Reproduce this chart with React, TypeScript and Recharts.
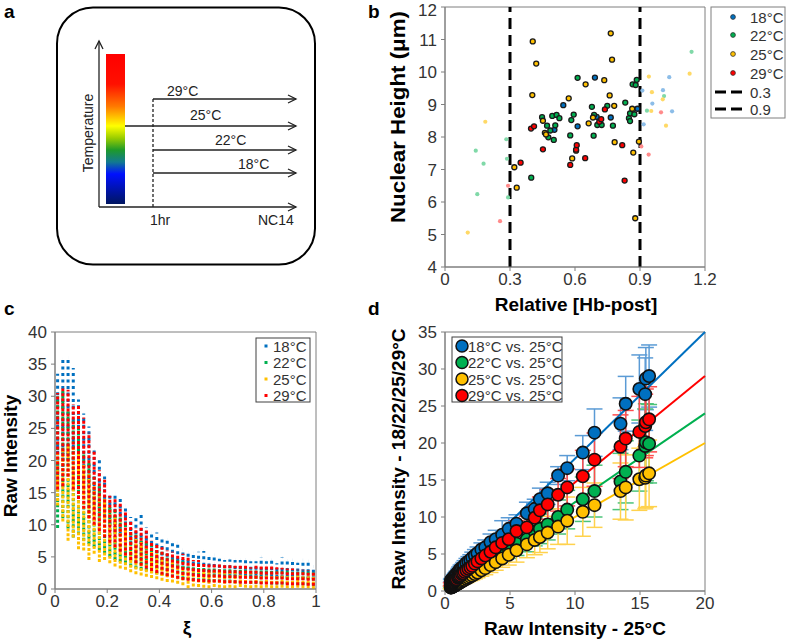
import React from "react";
import {
  ScatterChart,
  ComposedChart,
  Scatter,
  Line,
  XAxis,
  YAxis,
  ErrorBar,
  ReferenceLine,
  ReferenceArea,
} from "recharts";

const FONT = "'Liberation Sans', Arial, sans-serif";
const AXIS = "#7f7f7f";
const TICK = { fontSize: 17, fill: "#333", fontFamily: FONT };

// temperatures + colours shared by panels b-d
const temps = ["18°C", "22°C", "25°C", "29°C"];
const colors = ["#0070c0", "#00b050", "#ffc000", "#ff0000"];
const paleColors = ["#8cbde8", "#80d9a8", "#ffd966", "#ff8a8a"];
const barColors = ["#5b9bd5", "#4cc47a", "#ffd24d", "#ff4d4d"];

// ---- panel b: relative [Hb-post] vs nuclear height (x, y)
const hbCuts = [0.3, 0.9];
const hb18 = [
  [0.505, 8.22], [0.546, 8.98], [0.612, 8.33], [0.692, 9.83], [0.7, 8.62], [0.765, 8.6],
  [0.888, 8.87], [0.911, 9.43], [0.917, 8.39], [0.957, 9.03], [1.006, 9.44], [1.035, 9.84],
  [1.048, 8.79],
];
const hb22 = [
  [0.142, 7.58], [0.149, 6.24], [0.178, 7.18], [0.283, 7.93], [0.286, 7.33], [0.291, 6.14],
  [0.398, 6.75], [0.448, 8.61], [0.471, 8.35], [0.477, 7.99], [0.486, 8.2], [0.495, 8.65],
  [0.502, 7.91], [0.509, 8.36], [0.515, 8.68], [0.528, 8.58], [0.578, 8.05], [0.583, 8.52],
  [0.594, 8.69], [0.612, 9.82], [0.678, 8.93], [0.686, 8.04], [0.688, 8.68], [0.703, 8.37],
  [0.723, 8.37], [0.749, 8.96], [0.775, 8.35], [0.832, 9.06], [0.849, 8.58], [0.854, 8.73],
  [0.854, 8.49], [0.866, 9.62], [0.874, 8.7], [0.88, 9.6], [0.885, 9.76], [0.932, 8.81],
  [1.011, 9.26], [1.138, 10.62],
];
const hb25 = [
  [0.105, 5.06], [0.186, 8.47], [0.32, 7.07], [0.331, 6.44], [0.403, 9.29], [0.405, 10.94],
  [0.421, 10.26], [0.452, 8.5], [0.461, 8.13], [0.466, 8.08], [0.571, 9.19], [0.587, 7.34],
  [0.605, 7.58], [0.649, 9.62], [0.663, 8.42], [0.683, 8.6], [0.735, 9.75], [0.76, 9.28],
  [0.765, 11.19], [0.771, 10.38], [0.781, 8.96], [0.783, 7.84], [0.864, 8.87], [0.869, 7.52],
  [0.878, 5.5], [0.895, 7.86], [0.941, 9.86], [0.952, 8.8], [0.955, 9.38], [1.005, 9.16],
  [1.02, 8.35], [1.129, 9.95],
];
const hb29 = [
  [0.254, 5.41], [0.291, 6.5], [0.349, 7.21], [0.397, 8.26], [0.411, 8.33], [0.452, 7.62],
  [0.578, 7.14], [0.605, 7.61], [0.608, 7.75], [0.647, 7.35], [0.712, 8.47], [0.721, 8.55],
  [0.738, 8.85], [0.818, 7.75], [0.829, 6.66], [0.906, 7.71], [0.94, 7.46], [0.997, 8.76],
];
const hbSeries = [hb18, hb22, hb25, hb29];

// ---- panel c: raw intensity along xi, per bin: lowest and highest value seen
const xiBins = [
  0.01, 0.03, 0.05, 0.07, 0.09, 0.11, 0.13, 0.15, 0.17, 0.19, 0.21, 0.23, 0.25, 0.27, 0.29, 0.31, 0.33,
  0.35, 0.37, 0.39, 0.41, 0.43, 0.45, 0.47, 0.49, 0.51, 0.53, 0.55, 0.57, 0.59, 0.61, 0.63, 0.65,
  0.67, 0.69, 0.71, 0.73, 0.75, 0.77, 0.79, 0.81, 0.83, 0.85, 0.87, 0.89, 0.91, 0.93, 0.95, 0.97,
  0.99,
];
const c18Hi = [
  33.5, 35.8, 36.0, 34.4, 29.5, 27.3, 25.3, 21.6, 20.4, 17.5, 14.9, 14.9, 14.0, 13.0, 11.2, 11.5, 11.8,
  9.6, 8.7, 8.8, 7.7, 7.7, 7.2, 7.2, 6.1, 5.7, 5.6, 5.8, 5.9, 5.0, 5.3, 4.7, 4.5, 4.6, 4.5, 4.5, 4.6,
  4.3, 4.3, 5.0, 4.3, 4.5, 4.0, 4.9, 4.4, 4.5, 4.1, 4.5, 4.3, 3.5,
];
const c18Lo = [
  18, 19, 20, 20, 18, 17, 15, 14, 12.5, 11, 10, 9, 8.5, 8, 7, 6.5, 6, 5.5, 5, 4.6, 4.2, 4, 3.6, 3.4,
  3.2, 3, 2.8, 2.7, 2.6, 2.5, 2.4, 2.3, 2.2, 2.2, 2.1, 2.1, 2.0, 2.0, 2.0, 1.9, 1.9, 1.9, 1.8, 1.8,
  1.8, 1.7, 1.7, 1.6, 1.6, 1.5,
];
const c22Hi = [
  30.0, 30.8, 28.0, 26.2, 25.0, 21.3, 20.0, 17.5, 16.0, 14.5, 13.0, 12.5, 11.5, 10.5, 9.5, 8.5, 8.0,
  7.5, 7.0, 6.5, 6.2, 5.5, 5.0, 4.6, 4.3, 3.9, 3.8, 3.7, 3.6, 3.5, 3.4, 3.4, 3.3, 3.3, 3.2, 3.2, 3.1,
  3.1, 3.0, 3.0, 3.0, 2.9, 2.9, 2.9, 2.8, 2.8, 2.8, 2.7, 2.7, 2.6,
];
const c22Lo = [
  9.5, 11, 9.4, 8.0, 8.5, 7.5, 7.0, 6.5, 6.0, 5.5, 5.0, 4.5, 4.2, 4.0, 3.5, 3.2, 3.0, 2.8, 2.5, 2.3,
  2.1, 2.0, 1.8, 1.6, 1.5, 1.4, 1.3, 1.2, 1.2, 1.1, 1.1, 1.0, 1.0, 1.0, 0.9, 0.9, 0.9, 0.8, 0.8, 0.8,
  0.8, 0.7, 0.7, 0.7, 0.7, 0.6, 0.6, 0.6, 0.6, 0.5,
];
const c25Hi = [
  21, 22, 22.5, 22, 21, 19.5, 18, 16.5, 15, 14, 12.5, 11.5, 10.5, 9.5, 8.5, 8.0, 7.3, 6.8, 6.0, 5.5,
  5.0, 4.5, 4.2, 3.8, 3.5, 3.2, 3.1, 3.0, 2.9, 2.8, 2.8, 2.7, 2.7, 2.6, 2.6, 2.5, 2.5, 2.5, 2.4, 2.4,
  2.4, 2.3, 2.3, 2.3, 2.2, 2.2, 2.2, 2.1, 2.1, 2.0,
];
const c25Lo = [
  13, 10.5, 7.5, 8.0, 6.2, 6.0, 4.5, 5.5, 4.2, 4.5, 4.0, 3.5, 3.2, 3.0, 2.6, 2.3, 2.1, 1.9, 1.7, 1.5,
  1.3, 1.1, 1.0, 0.8, 0.6, 0.1, 0.4, 0.3, 0.2, 0.1, 0.3, 0.2, 0.1, 0.2, 0.1, 0.3, 0.2, 0.1, 0.2, 0.1,
  0.2, 0.1, 0.1, 0.2, 0.1, 0.1, 0.2, 0.1, 0.1, 0.0,
];
const c29Hi = [
  30.5, 31.2, 31.0, 28.8, 28.7, 26.7, 24.3, 21.5, 18.5, 17.0, 14.5, 14.0, 13.5, 12.0, 10.5, 9.5, 9.8,
  9.4, 7.5, 7.0, 6.5, 6.0, 5.8, 5.5, 5.5, 5.0, 4.5, 4.5, 4.2, 4.0, 4.0, 3.8, 3.8, 3.8, 3.6, 3.6, 3.6,
  3.4, 3.6, 3.8, 3.6, 3.5, 3.4, 3.3, 3.2, 3.2, 3.0, 3.0, 2.9, 2.8,
];
const c29Lo = [
  15.5, 16, 17.5, 15.5, 14, 12.5, 11, 10, 9, 8, 7.2, 6.5, 5.8, 5.2, 4.5, 4.0, 3.6, 3.2, 2.8, 2.5, 2.2,
  2.0, 1.8, 1.6, 1.4, 1.3, 1.2, 1.1, 1.1, 1.0, 1.0, 1.0, 0.9, 0.9, 0.9, 0.8, 0.8, 0.8, 0.8, 0.7, 0.7,
  0.7, 0.7, 0.7, 0.6, 0.6, 0.6, 0.6, 0.5, 0.5,
];
const cLo = [c18Lo, c22Lo, c25Lo, c29Lo];
const cHi = [c18Hi, c22Hi, c25Hi, c29Hi];
// dot spacing inside each column, so lower layers show through
const cDash = ["3 3.5", "3 2.2", "3 1.6", "3 2"];

// ---- panel d: raw intensity at 25°C (x) vs each temperature, mean and SD
const dX = [
  0.45, 0.5, 0.55, 0.6, 0.65, 0.7, 0.75, 0.8, 0.85, 0.9, 1.0, 1.05, 1.1, 1.2, 1.3, 1.4, 1.5, 1.65, 1.8,
  1.95, 2.1, 2.3, 2.5, 2.8, 3.1, 3.5, 3.9, 4.4, 4.9, 5.5, 6.3, 6.9, 7.3, 7.9, 8.7, 9.4, 10.6, 11.5, 13.5,
  13.9, 14.95, 15.4, 15.45, 15.7,
];
const d18 = [
  1.4, 1.5, 1.6, 1.7, 1.8, 1.9, 2.0, 2.1, 2.2, 2.3, 2.5, 2.6, 2.8, 3.0, 3.1, 3.3, 3.5, 3.8, 4.0, 4.2,
  4.5, 4.8, 5.1, 5.6, 5.9, 6.6, 7.0, 7.6, 8.4, 9.1, 10.5, 11.1, 12.4, 13.2, 15.6, 16.6, 18.7, 21.4,
  22.6, 25.3, 27.3, 26.6, 28.7, 29.05,
];
const d22 = [
  0.5, 0.6, 0.65, 0.7, 0.75, 0.8, 0.9, 0.95, 1.0, 1.05, 1.2, 1.25, 1.3, 1.4, 1.55, 1.65, 1.8, 1.95,
  2.1, 2.3, 2.5, 2.7, 3.0, 3.3, 3.7, 4.1, 4.6, 5.2, 5.8, 6.4, 7.0, 8.0, 8.4, 9.0, 10.0, 11.0, 12.4,
  13.5, 14.8, 16.1, 18.3, 19.6, 20.1, 19.9,
];
const d25 = [
  0.45, 0.5, 0.55, 0.6, 0.65, 0.7, 0.75, 0.8, 0.85, 0.9, 1.0, 1.05, 1.1, 1.2, 1.3, 1.4, 1.5, 1.65, 1.8,
  1.95, 2.1, 2.3, 2.5, 2.8, 3.1, 3.5, 3.9, 4.4, 4.9, 5.5, 6.3, 6.9, 7.3, 7.9, 8.7, 9.5, 10.7, 11.6, 13.5,
  14.0, 15.1, 15.3, 15.6, 15.9,
];
const d29 = [
  0.9, 1.0, 1.05, 1.15, 1.2, 1.3, 1.4, 1.45, 1.5, 1.6, 1.8, 1.9, 2.0, 2.1, 2.3, 2.4, 2.6, 2.8, 3.0, 3.2,
  3.4, 3.7, 4.0, 4.4, 4.8, 5.3, 5.9, 6.5, 7.0, 8.1, 8.6, 9.9, 10.9, 11.7, 13.0, 14.0, 15.5, 17.75, 19.5,
  20.6, 21.5, 22.3, 22.8, 23.2,
];
const e18 = [
  0.2, 0.2, 0.25, 0.25, 0.3, 0.3, 0.3, 0.35, 0.35, 0.4, 0.4, 0.45, 0.45, 0.5, 0.5, 0.55, 0.6, 0.6, 0.65,
  0.7, 0.75, 0.8, 0.85, 0.9, 1.0, 1.1, 1.2, 1.9, 1.5, 1.2, 1.5, 1.3, 1.5, 1.5, 1.2, 1.7, 2.3, 3.2, 3.5,
  3.7, 4.6, 4.9, 4.2, 4.2,
];
const e22 = [
  0.15, 0.15, 0.2, 0.2, 0.2, 0.2, 0.25, 0.25, 0.25, 0.3, 0.3, 0.3, 0.35, 0.35, 0.4, 0.4, 0.45, 0.5,
  0.55, 0.6, 0.65, 0.7, 0.75, 0.8, 0.9, 1.0, 1.1, 1.3, 1.4, 1.6, 1.7, 1.9, 2.0, 2.1, 2.3, 2.6, 3.0, 3.5,
  3.8, 4.2, 4.8, 5.0, 5.2, 5.3,
];
const e25 = [
  0.15, 0.15, 0.15, 0.2, 0.2, 0.2, 0.2, 0.25, 0.25, 0.25, 0.3, 0.3, 0.3, 0.35, 0.35, 0.4, 0.45, 0.5,
  0.5, 0.55, 0.6, 0.65, 0.7, 0.8, 0.9, 1.0, 1.1, 1.2, 1.4, 1.6, 1.8, 2.0, 2.1, 2.2, 2.4, 3.2, 3.3, 3.0,
  3.8, 4.4, 4.2, 4.2, 4.3, 4.5,
];
const e29 = [
  0.2, 0.2, 0.2, 0.25, 0.25, 0.3, 0.3, 0.3, 0.35, 0.35, 0.4, 0.4, 0.45, 0.45, 0.5, 0.5, 0.55, 0.6, 0.65,
  0.7, 0.7, 0.75, 0.8, 0.9, 1.0, 1.0, 1.1, 1.2, 1.3, 1.4, 1.5, 1.6, 1.8, 2.0, 2.2, 2.5, 3.5, 3.6, 4.3,
  3.8, 4.8, 4.3, 4.5, 4.4,
];
const dY = [d18, d22, d25, d29];
const dErr = [e18, e22, e25, e29];
// linear fits, value at x = 0 and x = 20
const fitX = [0, 20];
const fitStart = [0.77, 0, 0, 0.3];
const fitEnd = [35, 24, 20, 29.05];

const axisProps = {
  axisLine: { stroke: AXIS },
  tickLine: { stroke: AXIS },
  tick: TICK,
  tickSize: 4,
};

const PanelB = () => (
  <ScatterChart width={397} height={320} margin={{ top: 7, right: 82, bottom: 0, left: 0 }}>
    <XAxis type="number" dataKey="x" domain={[0, 1.2]} ticks={[0, 0.3, 0.6, 0.9, 1.2]} height={53} tickMargin={2} {...axisProps} />
    <YAxis type="number" dataKey="y" domain={[4, 12]} ticks={[4, 5, 6, 7, 8, 9, 10, 11, 12]} width={55} tickMargin={4} {...axisProps} />
    <ReferenceArea x1={0} x2={1.2} y1={4} y2={12} fill="none" stroke={AXIS} />
    {hbSeries.map((pts, i) => (
      <Scatter
        key={"out" + i}
        data={pts.filter((p) => p[0] < hbCuts[0] || p[0] > hbCuts[1]).map((p) => ({ x: p[0], y: p[1] }))}
        isAnimationActive={false}
        shape={(p: any) => <circle cx={p.cx} cy={p.cy} r={2.1} fill={paleColors[i]} />}
      />
    ))}
    {hbSeries.map((pts, i) => (
      <Scatter
        key={"in" + i}
        data={pts.filter((p) => p[0] >= hbCuts[0] && p[0] <= hbCuts[1]).map((p) => ({ x: p[0], y: p[1] }))}
        isAnimationActive={false}
        shape={(p: any) => <circle cx={p.cx} cy={p.cy} r={2.5} fill={colors[i]} stroke="#1a1a1a" strokeWidth={1.3} />}
      />
    ))}
    {hbCuts.map((c) => (
      <ReferenceLine key={c} x={c} stroke="#000" strokeWidth={3} strokeDasharray="11 6" />
    ))}
  </ScatterChart>
);

const PanelC = () => (
  <ScatterChart width={390} height={322} margin={{ top: 12, right: 74, bottom: 0, left: 0 }}>
    <XAxis type="number" dataKey="x" domain={[0, 1]} ticks={[0, 0.2, 0.4, 0.6, 0.8, 1]} height={53} tickMargin={2} {...axisProps} />
    <YAxis type="number" dataKey="y" domain={[0, 40]} ticks={[0, 5, 10, 15, 20, 25, 30, 35, 40]} width={55} tickMargin={4} {...axisProps} />
    <ReferenceArea x1={0} x2={1} y1={0} y2={40} fill="none" stroke={AXIS} />
    {temps.map((t, i) => (
      <Scatter
        key={t}
        data={xiBins.map((x, k) => ({ x, y: cLo[i][k], span: [0, cHi[i][k] - cLo[i][k]] }))}
        isAnimationActive={false}
        shape={() => <g />}
      >
        <ErrorBar dataKey="span" direction="y" width={0} stroke={colors[i]} strokeWidth={3} strokeDasharray={cDash[i]} isAnimationActive={false} />
      </Scatter>
    ))}
  </ScatterChart>
);

const PanelD = () => (
  <ComposedChart width={397} height={322} margin={{ top: 12, right: 82, bottom: 0, left: 0 }}>
    <XAxis type="number" dataKey="x" domain={[0, 20]} ticks={[0, 5, 10, 15, 20]} height={51} tickMargin={2} {...axisProps} />
    <YAxis type="number" dataKey="y" domain={[0, 35]} ticks={[0, 5, 10, 15, 20, 25, 30, 35]} width={55} tickMargin={4} {...axisProps} />
    <ReferenceArea x1={0} x2={20} y1={0} y2={35} fill="none" stroke={AXIS} />
    {temps.map((t, i) => (
      <Scatter
        key={t}
        data={dX.map((x, k) => ({ x, y: dY[i][k], sd: dErr[i][k] }))}
        isAnimationActive={false}
        shape={(p: any) => <circle cx={p.cx} cy={p.cy} r={6.2} fill={colors[i]} stroke="#111" strokeWidth={1.6} />}
      >
        <ErrorBar dataKey="sd" direction="y" width={8} stroke={barColors[i]} strokeWidth={1.5} isAnimationActive={false} />
      </Scatter>
    ))}
    {temps.map((t, i) => (
      <Line
        key={"fit" + t}
        data={fitX.map((x, k) => ({ x, y: k === 0 ? fitStart[i] : fitEnd[i] }))}
        dataKey="y"
        stroke={colors[i]}
        strokeWidth={2}
        dot={false}
        isAnimationActive={false}
      />
    ))}
  </ComposedChart>
);

const T = (props: any) => <text fontFamily={FONT} fill="#000" {...props} />;

const Overlay = () => {
  const rows = [
    { label: "29°C", y: 99, x0: 153, lx: 167, ly: 96 },
    { label: "25°C", y: 126, x0: 125, lx: 190, ly: 120 },
    { label: "22°C", y: 150, x0: 153, lx: 215, ly: 145 },
    { label: "18°C", y: 173, x0: 153, lx: 238, ly: 169 },
  ];
  const ink = "#222";
  const legendB = [17, 35, 54, 73];
  const legendCY = [346, 362.5, 379, 395.5];
  return (
    <svg width={787} height={642} style={{ position: "absolute", left: 0, top: 0, pointerEvents: "none" }}>
      <defs>
        <linearGradient id="tempGrad" x1="0" y1="0" x2="0" y2="1">
          <stop offset="0" stopColor="#ff0000" />
          <stop offset="0.2" stopColor="#ff1000" />
          <stop offset="0.35" stopColor="#ff7a00" />
          <stop offset="0.48" stopColor="#ffff00" />
          <stop offset="0.56" stopColor="#9acd00" />
          <stop offset="0.64" stopColor="#1e9a2a" />
          <stop offset="0.72" stopColor="#127a90" />
          <stop offset="0.8" stopColor="#0010ff" />
          <stop offset="1" stopColor="#001660" />
        </linearGradient>
      </defs>

      {/* panel letters */}
      <T x={4} y={18} fontSize={19} fontWeight="bold">a</T>
      <T x={368} y={18} fontSize={19} fontWeight="bold">b</T>
      <T x={4} y={315} fontSize={19} fontWeight="bold">c</T>
      <T x={368} y={315} fontSize={19} fontWeight="bold">d</T>

      {/* panel a schematic */}
      <rect x={57} y={7.5} width={258} height={257} rx={36} fill="none" stroke="#000" strokeWidth={2} />
      <rect x={106} y={54} width={19} height={150} fill="url(#tempGrad)" />
      <line x1={99} y1={207} x2={99} y2={41} stroke={ink} strokeWidth={1.3} />
      <polyline points="95,49 99,41 103,49" fill="none" stroke={ink} strokeWidth={1.3} />
      <line x1={99} y1={207} x2={296} y2={207} stroke={ink} strokeWidth={1.3} />
      <polyline points="288,203 296,207 288,211" fill="none" stroke={ink} strokeWidth={1.3} />
      <line x1={153} y1={99} x2={153} y2={207} stroke={ink} strokeWidth={1.3} strokeDasharray="3 2" />
      {rows.map((r) => (
        <g key={r.label}>
          <line x1={r.x0} y1={r.y} x2={296} y2={r.y} stroke={ink} strokeWidth={1.3} />
          <polyline points={`288,${r.y - 4} 296,${r.y} 288,${r.y + 4}`} fill="none" stroke={ink} strokeWidth={1.3} />
          <T x={r.lx} y={r.ly} fontSize={14} fill={ink}>{r.label}</T>
        </g>
      ))}
      <T x={93} y={133} fontSize={14} fill={ink} textAnchor="middle" transform="rotate(-90 93 133)">Temperature</T>
      <T x={150} y={225} fontSize={14} fill={ink}>1hr</T>
      <T x={258} y={225} fontSize={14} fill={ink}>NC14</T>

      {/* axis titles */}
      <T x={576} y={311} fontSize={19} fontWeight="bold" textAnchor="middle">Relative [Hb-post]</T>
      <T x={405} y={117} fontSize={20} fontWeight="bold" textAnchor="middle" textLength={212} lengthAdjust="spacingAndGlyphs" transform="rotate(-90 405 117)">Nuclear Height (μm)</T>
      <T x={17} y={456} fontSize={19} fontWeight="bold" textAnchor="middle" transform="rotate(-90 17 456)">Raw Intensity</T>
      <T x={187} y={634} fontSize={19} fontWeight="bold" textAnchor="middle">ξ</T>
      <T x={405} y={459} fontSize={19} fontWeight="bold" textAnchor="middle" transform="rotate(-90 405 459)">Raw Intensity - 18/22/25/29°C</T>
      <T x={575} y={635} fontSize={19} fontWeight="bold" textAnchor="middle">Raw Intensity - 25°C</T>

      {/* legend b */}
      <rect x={711} y={7} width={74} height={111} fill="#fff" stroke={AXIS} />
      {temps.map((t, i) => (
        <g key={t}>
          <circle cx={733} cy={legendB[i]} r={2.4} fill={colors[i]} stroke="#333" strokeWidth={0.8} />
          <T x={750} y={legendB[i] + 5.5} fontSize={15} fill="#333">{t}</T>
        </g>
      ))}
      {hbCuts.map((c, i) => (
        <g key={c}>
          <line x1={715} x2={742} y1={92 + i * 17} y2={92 + i * 17} stroke="#000" strokeWidth={3} strokeDasharray="11 5" />
          <T x={750} y={97.5 + i * 17} fontSize={15} fill="#333">{String(c)}</T>
        </g>
      ))}

      {/* legend c */}
      <rect x={256} y={338} width={54} height={64} fill="#fff" stroke="#404040" />
      {temps.map((t, i) => (
        <g key={t}>
          <rect x={264.5} y={legendCY[i] - 1.5} width={3} height={3} fill={colors[i]} />
          <T x={273} y={legendCY[i] + 5.5} fontSize={15} fill="#333">{t}</T>
        </g>
      ))}

      {/* legend d */}
      <rect x={452} y={337} width={110} height={65} fill="#fff" stroke="#404040" />
      {temps.map((t, i) => (
        <g key={t}>
          <circle cx={462} cy={legendCY[i]} r={6} fill={colors[i]} stroke="#111" strokeWidth={1.5} />
          <T x={468} y={legendCY[i] + 5.5} fontSize={15} fill="#333">{t + " vs. 25°C"}</T>
        </g>
      ))}
    </svg>
  );
}

export default function App() {
  return (
    <div style={{ position: "absolute", left: 0, top: 0, width: 787, height: 642, background: "#fff", fontFamily: FONT }}>
      <div style={{ position: "absolute", left: 390, top: 0 }}>
        <PanelB />
      </div>
      <div style={{ position: "absolute", left: 0, top: 320 }}>
        <PanelC />
      </div>
      <div style={{ position: "absolute", left: 390, top: 320 }}>
        <PanelD />
      </div>
      <Overlay />
    </div>
  );
}
